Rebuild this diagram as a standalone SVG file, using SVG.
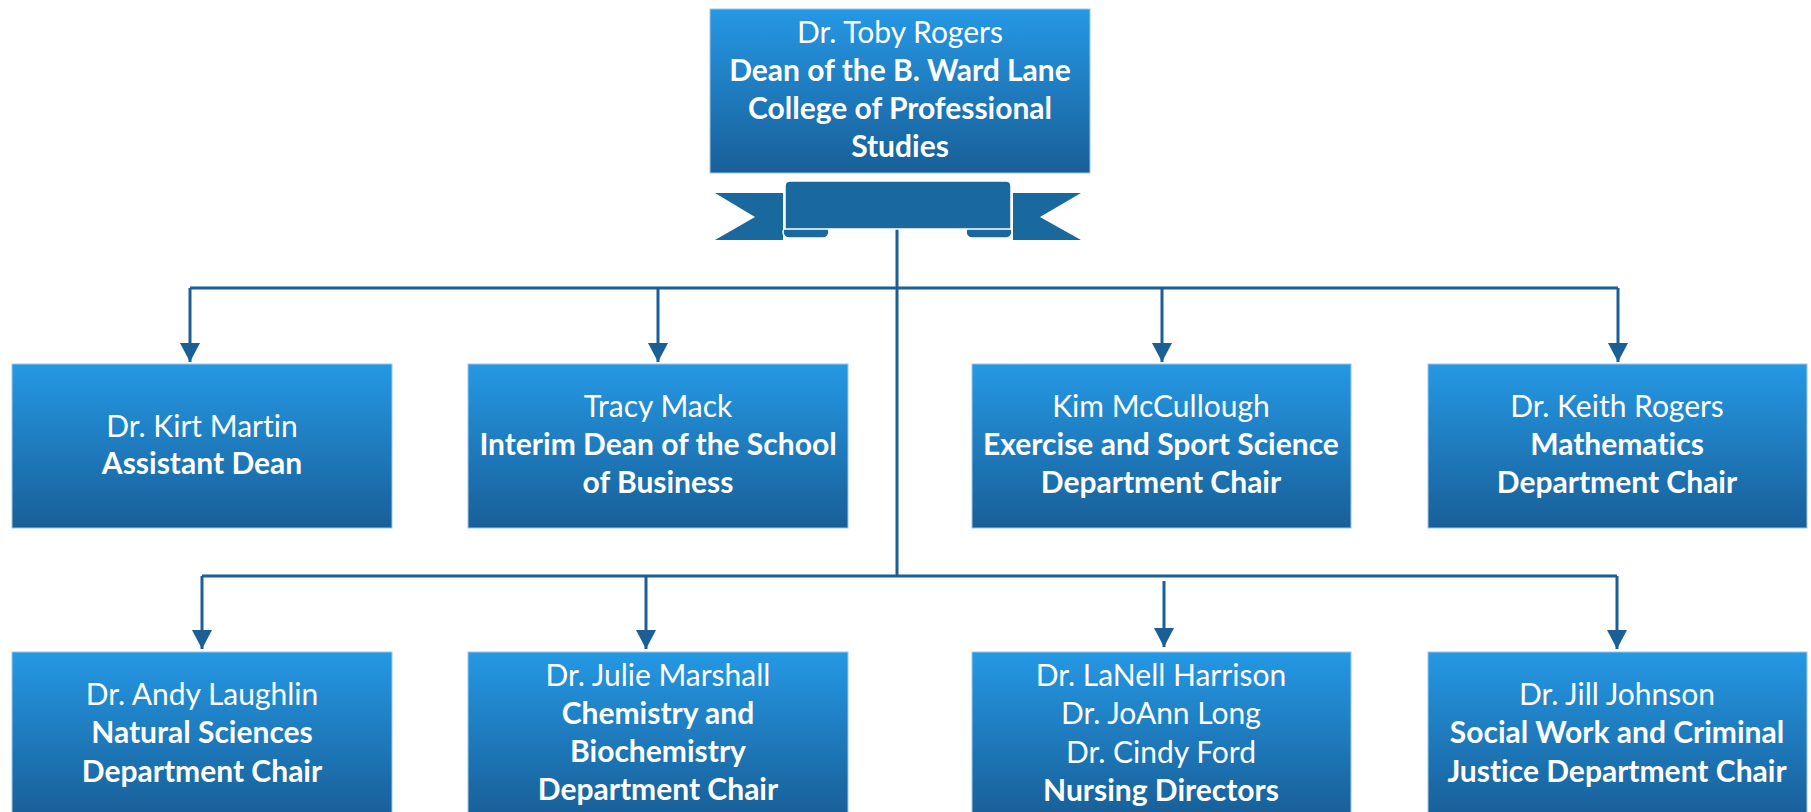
<svg xmlns="http://www.w3.org/2000/svg" width="1811" height="812" viewBox="0 0 1811 812">
<defs>
<linearGradient id="boxGrad" x1="0" y1="0" x2="0" y2="1">
<stop offset="0" stop-color="#2598E4"/>
<stop offset="1" stop-color="#185F98"/>
</linearGradient>
<marker id="arrow" markerUnits="userSpaceOnUse" markerWidth="20" markerHeight="20" refX="19" refY="10" orient="auto">
<path d="M0,0 L19,10 L0,20 z" fill="#1A5F96"/>
</marker>
<style>
.box { fill: url(#boxGrad); stroke: #9CC8EC; stroke-width: 1; }
.conn { fill: none; stroke: #1A5F96; stroke-width: 3; }
.t { font-family: Lato, "Liberation Sans", sans-serif; font-size: 30px; fill: #FFFFFF; text-anchor: middle; font-variant-ligatures: none; }
.b { font-weight: bold; }
.rib { fill: #19699F; }
.ribline { fill: #19699F; stroke: #FFFFFF; stroke-width: 1.5; }
</style>
</defs>
<rect width="1811" height="812" fill="#FFFFFF"/>

<g id="connectors">
<line class="conn" x1="897" y1="229" x2="897" y2="577"/>
<line class="conn" x1="190" y1="288" x2="1618" y2="288"/>
<line class="conn" x1="190" y1="288" x2="190" y2="362" marker-end="url(#arrow)"/>
<line class="conn" x1="658" y1="288" x2="658" y2="362" marker-end="url(#arrow)"/>
<line class="conn" x1="1162" y1="288" x2="1162" y2="362" marker-end="url(#arrow)"/>
<line class="conn" x1="1618" y1="288" x2="1618" y2="362" marker-end="url(#arrow)"/>
<line class="conn" x1="202" y1="576" x2="1617" y2="576"/>
<line class="conn" x1="202" y1="576" x2="202" y2="649" marker-end="url(#arrow)"/>
<line class="conn" x1="646" y1="576" x2="646" y2="649" marker-end="url(#arrow)"/>
<line class="conn" x1="1164" y1="581" x2="1164" y2="647" marker-end="url(#arrow)"/>
<line class="conn" x1="1617" y1="576" x2="1617" y2="649" marker-end="url(#arrow)"/>
</g>

<g id="dean">
<rect class="box" x="710" y="9" width="380" height="164"/>
<text class="t" x="900" y="43">Dr. Toby Rogers</text>
<text class="t b" x="900" y="81">Dean of the B. Ward Lane</text>
<text class="t b" x="900" y="119">College of Professional</text>
<text class="t b" x="900" y="157">Studies</text>
</g>

<g id="ribbon">
<polygon class="rib" points="715,193 783,193 783,240 715,240 755,217"/>
<polygon class="rib" points="1081,193 1013,193 1013,240 1081,240 1040,217"/>
<rect class="ribline" x="783" y="226" width="46" height="12" rx="6"/>
<rect class="ribline" x="966" y="226" width="46" height="12" rx="6"/>
<path class="ribline" d="M785,229 L785,186 Q785,181 790,181 L1006,181 Q1011,181 1011,186 L1011,229 Z"/>
</g>

<g id="kirt-martin">
<rect class="box" x="12" y="364" width="380" height="164"/>
<text class="t" x="202" y="437">Dr. Kirt Martin</text>
<text class="t b" x="202" y="474">Assistant Dean</text>
</g>

<g id="tracy-mack">
<rect class="box" x="468" y="364" width="380" height="164"/>
<text class="t" x="658" y="417">Tracy Mack</text>
<text class="t b" x="658" y="455">Interim Dean of the School</text>
<text class="t b" x="658" y="493">of Business</text>
</g>

<g id="kim-mccullough">
<rect class="box" x="972" y="364" width="379" height="164"/>
<text class="t" x="1161" y="417">Kim McCullough</text>
<text class="t b" x="1161" y="455">Exercise and Sport Science</text>
<text class="t b" x="1161" y="493">Department Chair</text>
</g>

<g id="keith-rogers">
<rect class="box" x="1428" y="364" width="379" height="164"/>
<text class="t" x="1617" y="417">Dr. Keith Rogers</text>
<text class="t b" x="1617" y="455">Mathematics</text>
<text class="t b" x="1617" y="493">Department Chair</text>
</g>

<g id="andy-laughlin">
<rect class="box" x="12" y="652" width="380" height="164"/>
<text class="t" x="202" y="705">Dr. Andy Laughlin</text>
<text class="t b" x="202" y="743">Natural Sciences</text>
<text class="t b" x="202" y="782">Department Chair</text>
</g>

<g id="julie-marshall">
<rect class="box" x="468" y="652" width="380" height="164"/>
<text class="t" x="658" y="686">Dr. Julie Marshall</text>
<text class="t b" x="658" y="724">Chemistry and</text>
<text class="t b" x="658" y="762">Biochemistry</text>
<text class="t b" x="658" y="800">Department Chair</text>
</g>

<g id="nursing">
<rect class="box" x="972" y="652" width="379" height="164"/>
<text class="t" x="1161" y="686">Dr. LaNell Harrison</text>
<text class="t" x="1161" y="724">Dr. JoAnn Long</text>
<text class="t" x="1161" y="763">Dr. Cindy Ford</text>
<text class="t b" x="1161" y="801">Nursing Directors</text>
</g>

<g id="jill-johnson">
<rect class="box" x="1428" y="652" width="379" height="164"/>
<text class="t" x="1617" y="705">Dr. Jill Johnson</text>
<text class="t b" x="1617" y="743">Social Work and Criminal</text>
<text class="t b" x="1617" y="782">Justice Department Chair</text>
</g>
</svg>
